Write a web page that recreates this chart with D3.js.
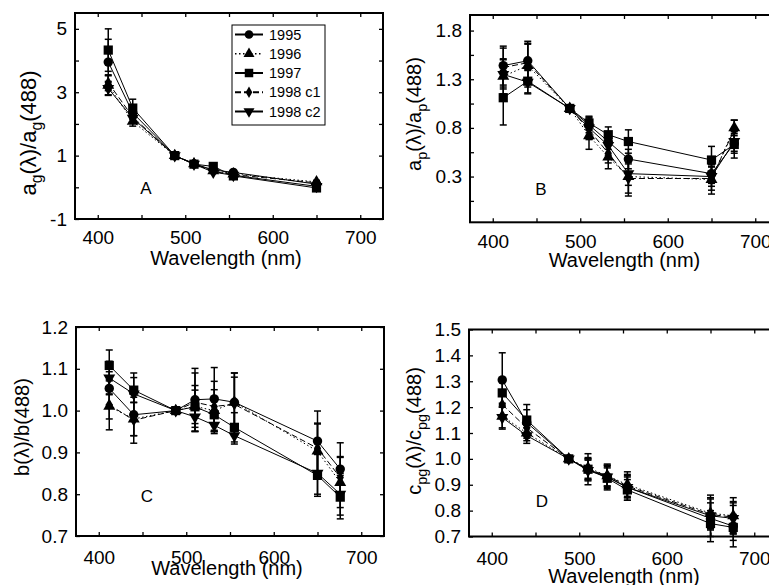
<!DOCTYPE html>
<html><head><meta charset="utf-8">
<script src="https://cdn.jsdelivr.net/npm/d3@7"></script>
<style>
body{margin:0;background:#fff}
svg{display:block;font-family:"Liberation Sans",Arial,sans-serif}
</style>
</head><body>
<svg id="chart" width="769" height="585"></svg>
<script>
// ---------- data ----------
const wavelengths = [412, 440, 488, 510, 532, 555, 650, 676];
const seriesNames = ["1995", "1996", "1997", "1998 c1", "1998 c2"];
const xTickValues = [400, 450, 500, 550, 600, 650, 700];
const xTickLabels = [400, 500, 600, 700];

// Panel A: a_g(λ)/a_g(488)  (no 676 nm)
const aG1995 = [3.95, 2.35, 1, 0.74, 0.55, 0.47, 0.10, null];
const aG1996 = [3.22, 2.08, 1, 0.74, 0.52, 0.42, 0.17, null];
const aG1997 = [4.33, 2.50, 1, 0.73, 0.66, 0.36, -0.02, null];
const aG1998c1 = [3.30, 2.22, 1, 0.75, 0.50, 0.40, 0.14, null];
const aG1998c2 = [3.12, 2.18, 1, 0.73, 0.48, 0.38, 0.03, null];
const aGErr1995 = [0.72, 0.20, 0, 0.05, 0.05, 0.05, 0.05, null];
const aGErr1996 = [0.30, 0.15, 0, 0.04, 0.04, 0.04, 0.05, null];
const aGErr1997 = [0.67, 0.28, 0, 0.05, 0.05, 0.05, 0.05, null];
const aGErr1998c1 = [0.25, 0.15, 0, 0.04, 0.04, 0.04, 0.04, null];
const aGErr1998c2 = [0.22, 0.12, 0, 0.04, 0.04, 0.04, 0.04, null];
const aGTicks = [-1, 0, 1, 2, 3, 4, 5];
const aGLabels = [-1, 1, 3, 5];

// Panel B: a_p(λ)/a_p(488)
const aP1995 = [1.44, 1.49, 1, 0.83, 0.66, 0.48, 0.33, 0.64];
const aP1996 = [1.33, 1.44, 1, 0.72, 0.50, 0.30, 0.27, 0.80];
const aP1997 = [1.11, 1.28, 1, 0.85, 0.73, 0.66, 0.47, 0.63];
const aP1998c1 = [1.42, 1.47, 1, 0.78, 0.54, 0.28, 0.28, 0.78];
const aP1998c2 = [1.35, 1.27, 1, 0.80, 0.62, 0.33, 0.30, 0.66];
const aPErr1995 = [0.20, 0.20, 0, 0.08, 0.08, 0.10, 0.10, 0.10];
const aPErr1996 = [0.18, 0.22, 0, 0.14, 0.12, 0.20, 0.15, 0.08];
const aPErr1997 = [0.28, 0.12, 0, 0.07, 0.08, 0.12, 0.14, 0.14];
const aPErr1998c1 = [0.20, 0.20, 0, 0.10, 0.10, 0.15, 0.12, 0.10];
const aPErr1998c2 = [0.15, 0.12, 0, 0.10, 0.10, 0.12, 0.10, 0.10];
const aPTicks = [0.05, 0.3, 0.55, 0.8, 1.05, 1.3, 1.55, 1.8];
const aPLabels = [0.3, 0.8, 1.3, 1.8];

// Panel C: b(λ)/b(488)
const b1995 = [1.053, 0.990, 1, 1.026, 1.028, 1.020, 0.927, 0.860];
const b1996 = [1.010, 0.980, 1, 1.010, 1.000, 1.020, 0.903, 0.828];
const b1997 = [1.108, 1.049, 1, 1.009, 0.990, 0.960, 0.845, 0.793];
const b1998c1 = [1.014, 0.977, 1, 1.020, 1.010, 1.015, 0.910, 0.840];
const b1998c2 = [1.078, 1.040, 1, 0.985, 0.965, 0.940, 0.850, 0.800];
const bErr1995 = [0.040, 0.050, 0, 0.075, 0.075, 0.070, 0.072, 0.063];
const bErr1996 = [0.030, 0.040, 0, 0.050, 0.050, 0.060, 0.065, 0.060];
const bErr1997 = [0.037, 0.030, 0, 0.040, 0.040, 0.035, 0.050, 0.052];
const bErr1998c1 = [0.060, 0.055, 0, 0.070, 0.060, 0.075, 0.060, 0.050];
const bErr1998c2 = [0.040, 0.050, 0, 0.035, 0.020, 0.020, 0.050, 0.050];
const bTicks = [0.7, 0.8, 0.9, 1.0, 1.1, 1.2];

// Panel D: c_pg(λ)/c_pg(488)
const c1995 = [1.305, 1.140, 1, 0.960, 0.930, 0.890, 0.770, 0.740];
const c1996 = [1.165, 1.100, 1, 0.965, 0.935, 0.900, 0.790, 0.780];
const c1997 = [1.255, 1.150, 1, 0.960, 0.925, 0.880, 0.750, 0.735];
const c1998c1 = [1.210, 1.120, 1, 0.960, 0.935, 0.895, 0.785, 0.775];
const c1998c2 = [1.160, 1.090, 1, 0.955, 0.930, 0.890, 0.780, 0.770];
const cErr1995 = [0.105, 0.050, 0, 0.060, 0.050, 0.050, 0.090, 0.080];
const cErr1996 = [0.050, 0.030, 0, 0.040, 0.040, 0.050, 0.060, 0.070];
const cErr1997 = [0.050, 0.060, 0, 0.040, 0.040, 0.040, 0.050, 0.050];
const cErr1998c1 = [0.050, 0.040, 0, 0.040, 0.040, 0.040, 0.060, 0.060];
const cErr1998c2 = [0.040, 0.030, 0, 0.040, 0.040, 0.040, 0.050, 0.060];
const cTicks = [0.7, 0.8, 0.9, 1.0, 1.1, 1.2, 1.3, 1.4, 1.5];

// ---------- styles ----------
const seriesDash = [null, "1.5,2.5", null, "6,3", null];
const seriesSymbol = [d3.symbolCircle, d3.symbolTriangle, d3.symbolSquare, d3.symbolDiamond, d3.symbolTriangle];
const seriesSymSize = [70, 62, 85, 45, 62];
const seriesRotate = [0, 0, 0, 0, 180];

const panels = [
  {letter: "A", xr: [75, 383], yr: [219, 13], yd: [-1, 5.5], ticks: aGTicks, labels: aGLabels, fmt: d => String(d),
   vals: [aG1995, aG1996, aG1997, aG1998c1, aG1998c2], errs: [aGErr1995, aGErr1996, aGErr1997, aGErr1998c1, aGErr1998c2],
   letterPos: [146, 194], ylab: {x: 36, y: 133, size: 22, main: "a", sub: "g"}, xPad: 12, titleY: 265},
  {letter: "B", xr: [470, 778], yr: [222.3, 15], yd: [-0.17, 1.96], ticks: aPTicks, labels: aPLabels, fmt: d3.format(".1f"),
   vals: [aP1995, aP1996, aP1997, aP1998c1, aP1998c2], errs: [aPErr1995, aPErr1996, aPErr1997, aPErr1998c1, aPErr1998c2],
   letterPos: [541, 195], ylab: {x: 421, y: 114, size: 20, main: "a", sub: "p"}, xPad: 12.5, titleY: 267},
  {letter: "C", xr: [76, 384], yr: [536, 327], yd: [0.7, 1.2], ticks: bTicks, labels: bTicks, fmt: d3.format(".1f"),
   vals: [b1995, b1996, b1997, b1998c1, b1998c2], errs: [bErr1995, bErr1996, bErr1997, bErr1998c1, bErr1998c2],
   letterPos: [147, 502], ylab: {x: 29, y: 427, size: 20, main: "b", sub: ""}, xPad: 14.5, titleY: 575},
  {letter: "D", xr: [469, 777], yr: [536.5, 329.5], yd: [0.7, 1.5], ticks: cTicks, labels: cTicks, fmt: d3.format(".1f"),
   vals: [c1995, c1996, c1997, c1998c1, c1998c2], errs: [cErr1995, cErr1996, cErr1997, cErr1998c1, cErr1998c2],
   letterPos: [542, 507], ylab: {x: 421, y: 431, size: 20, main: "c", sub: "pg"}, xPad: 15, titleY: 583}
];

const svg = d3.select("#chart");
svg.append("rect").attr("width", 769).attr("height", 585).attr("fill", "#fff");

panels.forEach(p => {
  const x = d3.scaleLinear().domain([374, 726]).range(p.xr);
  const y = d3.scaleLinear().domain(p.yd).range(p.yr);
  const g = svg.append("g");
  const [x0, x1] = p.xr, [yb, yt] = p.yr;

  // tick marks (inward) on all four sides
  const tickLen = 4;
  g.append("g").attr("transform", `translate(0,${yb})`)
    .call(d3.axisBottom(x).tickValues(xTickValues).tickSizeInner(-tickLen).tickSizeOuter(0).tickFormat(""));
  g.append("g").attr("transform", `translate(0,${yt})`)
    .call(d3.axisTop(x).tickValues(xTickValues).tickSizeInner(-tickLen).tickSizeOuter(0).tickFormat(""));
  g.append("g").attr("transform", `translate(${x0},0)`)
    .call(d3.axisLeft(y).tickValues(p.ticks).tickSizeInner(-tickLen).tickSizeOuter(0).tickFormat(""));
  g.append("g").attr("transform", `translate(${x1},0)`)
    .call(d3.axisRight(y).tickValues(p.ticks).tickSizeInner(-tickLen).tickSizeOuter(0).tickFormat(""));
  g.selectAll(".domain").remove();
  g.selectAll(".tick line").attr("stroke", "#000").attr("stroke-width", 1.3);

  // tick labels
  const xl = g.append("g").attr("transform", `translate(0,${yb})`)
    .call(d3.axisBottom(x).tickValues(xTickLabels).tickSize(0).tickPadding(p.xPad).tickFormat(d => String(d)));
  const yl = g.append("g").attr("transform", `translate(${x0},0)`)
    .call(d3.axisLeft(y).tickValues(p.labels).tickSize(0).tickPadding(8).tickFormat(p.fmt));
  [xl, yl].forEach(a => {
    a.select(".domain").remove();
    a.selectAll("text").attr("font-size", 19).attr("fill", "#000")
      .attr("font-family", '"Liberation Sans",Arial,sans-serif');
  });

  // frame
  g.append("rect").attr("x", x0).attr("y", yt).attr("width", x1 - x0).attr("height", yb - yt)
    .attr("fill", "none").attr("stroke", "#000").attr("stroke-width", 2);

  // data
  const line = d3.line().defined(d => d.v !== null).x(d => x(d.w)).y(d => y(d.v));
  p.vals.forEach((vals, si) => {
    const pts = wavelengths.map((w, i) => ({w, v: vals[i], e: p.errs[si][i]}));
    g.append("path").datum(pts).attr("d", line).attr("fill", "none").attr("stroke", "#000")
      .attr("stroke-width", 1).attr("stroke-dasharray", seriesDash[si]);
  });
  p.vals.forEach((vals, si) => {
    const pts = wavelengths.map((w, i) => ({w, v: vals[i], e: p.errs[si][i]})).filter(d => d.v !== null && d.e);
    const eb = g.append("g").attr("stroke", "#000").attr("stroke-width", 1.5);
    pts.forEach(d => {
      const cx = x(d.w), ya = y(d.v + d.e), yb2 = y(d.v - d.e);
      eb.append("line").attr("x1", cx).attr("x2", cx).attr("y1", ya).attr("y2", yb2);
      eb.append("line").attr("x1", cx - 3.5).attr("x2", cx + 3.5).attr("y1", ya).attr("y2", ya);
      eb.append("line").attr("x1", cx - 3.5).attr("x2", cx + 3.5).attr("y1", yb2).attr("y2", yb2);
    });
  });
  p.vals.forEach((vals, si) => {
    const pts = wavelengths.map((w, i) => ({w, v: vals[i]})).filter(d => d.v !== null);
    const sym = d3.symbol().type(seriesSymbol[si]).size(seriesSymSize[si]);
    g.append("g").selectAll("path").data(pts).join("path")
      .attr("d", sym)
      .attr("transform", d => `translate(${x(d.w)},${y(d.v)}) rotate(${seriesRotate[si]})`)
      .attr("fill", "#000");
  });

  // panel letter
  g.append("text").attr("x", p.letterPos[0]).attr("y", p.letterPos[1]).attr("text-anchor", "middle")
    .attr("font-size", 17).text(p.letter);

  // x title
  g.append("text").attr("x", (x0 + Math.min(x1, 769 + 0)) / 2 + (p.letter === "B" || p.letter === "D" ? 5 : -3))
    .attr("y", p.titleY).attr("text-anchor", "middle").attr("font-size", 20).text("Wavelength (nm)");

  // y title
  const yt2 = g.append("text").attr("transform", `translate(${p.ylab.x},${p.ylab.y}) rotate(-90)`)
    .attr("text-anchor", "middle").attr("font-size", p.ylab.size);
  const L = p.ylab;
  const subSize = L.size * 0.72;
  yt2.append("tspan").text(L.main);
  if (L.sub) yt2.append("tspan").attr("font-size", subSize).attr("dy", L.size * 0.28).text(L.sub);
  yt2.append("tspan").attr("dy", L.sub ? -L.size * 0.28 : 0).text("(λ)/" + L.main);
  if (L.sub) yt2.append("tspan").attr("font-size", subSize).attr("dy", L.size * 0.28).text(L.sub);
  yt2.append("tspan").attr("dy", L.sub ? -L.size * 0.28 : 0).text("(488)");
});

// legend
const lg = svg.append("g");
lg.append("rect").attr("x", 232).attr("y", 25).attr("width", 93).attr("height", 100)
  .attr("fill", "#fff").attr("stroke", "#000").attr("stroke-width", 1);
const legendY = d3.scalePoint().domain(seriesNames).range([34.5, 111.5]);
seriesNames.forEach((name, si) => {
  const yy = legendY(name);
  lg.append("line").attr("x1", 235).attr("x2", 263).attr("y1", yy).attr("y2", yy)
    .attr("stroke", "#000").attr("stroke-width", si === 1 ? 1.3 : 2).attr("stroke-dasharray", seriesDash[si]);
  lg.append("path").attr("d", d3.symbol().type(seriesSymbol[si]).size(seriesSymSize[si] * 0.85))
    .attr("transform", `translate(249,${yy}) rotate(${seriesRotate[si]})`).attr("fill", "#000");
  lg.append("text").attr("x", 269).attr("y", yy + 5).attr("font-size", 14.5).text(name);
});
</script>
</body></html>
